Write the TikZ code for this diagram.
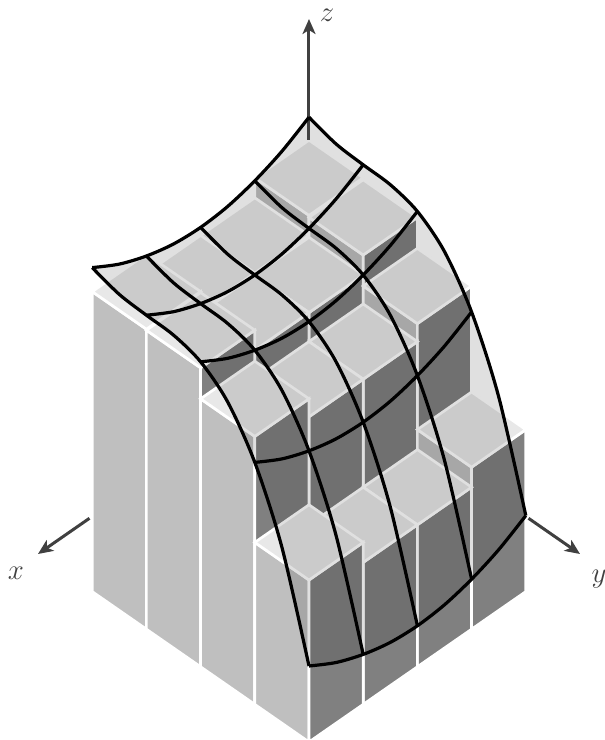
\documentclass[tikz,border=0pt]{standalone}
\usepackage{xcolor}
\usetikzlibrary{arrows.meta}
\definecolor{barTop}{gray}{0.91}
\definecolor{barLeft}{gray}{0.75}
\definecolor{barRight}{gray}{0.50}
\definecolor{axisGray}{gray}{0.25}
\tikzset{
  >={Stealth[length=7.5pt, width=6.5pt, inset=2pt]},
  barface/.style={draw=white, line width=1.35pt},
  surf/.style={fill=black, fill opacity=0.12},
  mesh/.style={draw=black, line width=1.6pt, line join=round},
  axisline/.style={->, draw=axisGray, line width=1.5pt},
  axislabel/.style={text=axisGray, font=\Large, inner sep=0pt},
  curve/.style={smooth, samples at={0,...,8}, variable=\t},
}
\begin{document}
\begin{tikzpicture}[x={(-27.1pt,-18.8pt)}, y={(27.1pt,-18.8pt)}, z={(0pt,0.5pt)}]
  \useasboundingbox (-154.5pt,-187pt) rectangle (148pt,183pt);
  \clip (-154.5pt,-187pt) rectangle (148pt,183pt);
  % bar heights, back row first
  \def\barh{{301,281,281,300, 299,279,279,299, 268,250,250,268, 162,142,142,162}}
  \def\fx{{0,-15.3,-26,-32.8,-35,-32.8,-26,-15.3,0}}
  \def\fy{{248,240,238,236.9,229,207.6,166,100,0}}
  \foreach \by in {1,...,4} {
    \foreach \bx in {1,...,4} {
      \pgfmathsetmacro\hh{\barh[(\by-1)*4+\bx-1]}
      \filldraw[barface, fill=barLeft] (\bx+1,\by,0) -- (\bx+1,\by+1,0) -- (\bx+1,\by+1,\hh) -- (\bx+1,\by,\hh) -- cycle;
      \filldraw[barface, fill=barRight] (\bx,\by+1,0) -- (\bx+1,\by+1,0) -- (\bx+1,\by+1,\hh) -- (\bx,\by+1,\hh) -- cycle;
      \filldraw[barface, fill=barTop] (\bx,\by,\hh) -- (\bx+1,\by,\hh) -- (\bx+1,\by+1,\hh) -- (\bx,\by+1,\hh) -- cycle;
    }
  }
  % surface, sampled at half steps
  \fill[surf] plot[curve] ({1+\t/2},1,{76+\fx[\t]+\fy[0]})
    -- plot[curve] (5,{1+\t/2},{76+\fx[8]+\fy[\t]})
    -- plot[curve] ({5-\t/2},5,{76+\fx[8-\t]+\fy[8]})
    -- plot[curve] (1,{5-\t/2},{76+\fx[0]+\fy[8-\t]}) -- cycle;
  % axes
  \coordinate (xstart) at (4.05,0,0);
  \coordinate (xtip) at (5,0,0);
  \coordinate (ystart) at (0,4.05,0);
  \coordinate (ytip) at (0,5,0);
  \coordinate (zstart) at (0,0,226);
  \coordinate (ztip) at (0,0,347);
  \draw[axisline] (xstart) -- (xtip);
  \draw[axisline] (ystart) -- (ytip);
  \draw[axisline] (zstart) -- (ztip);
  \node[axislabel] (xlabel) at ([shift={(-11pt,-9.5pt)}]xtip) {$x$};
  \node[axislabel] (ylabel) at ([shift={(9.5pt,-12.5pt)}]ytip) {$y$};
  \node[axislabel] (zlabel) at ([shift={(9pt,2pt)}]ztip) {$z$};
  % surface lines
  \foreach \k in {1,...,5} {
    \draw[mesh] plot[curve] (\k,{1+\t/2},{76+\fx[2*(\k-1)]+\fy[\t]});
    \draw[mesh] plot[curve] ({1+\t/2},\k,{76+\fx[\t]+\fy[2*(\k-1)]});
  }
\end{tikzpicture}
\end{document}
